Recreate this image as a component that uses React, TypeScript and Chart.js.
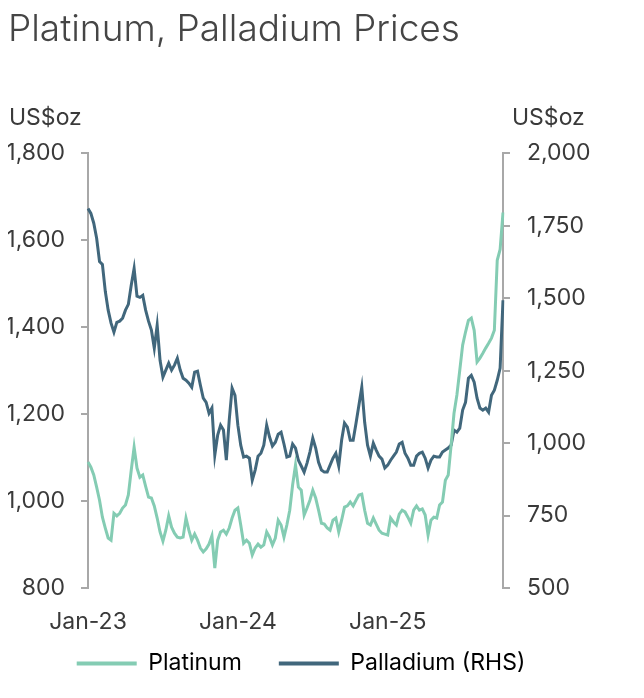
import React, { useEffect, useRef } from "react";
import { Chart, registerables } from "chart.js";

Chart.register(...registerables);

// weekly prices, first week of Jan 2023 to mid Oct 2025
const firstWeek = new Date(2023, 0, 6);
const weekCount = 145;

// US$/oz, left axis
const platinum = [
  1090, 1078, 1060, 1032, 1002, 963, 938, 915, 910, 972,
  966, 972, 984, 991, 1014, 1071, 1124, 1076, 1055, 1060,
  1034, 1009, 1007, 989, 961, 929, 908, 933, 966, 940,
  926, 917, 915, 917, 961, 933, 910, 924, 910, 892,
  883, 890, 901, 920, 846, 910, 929, 933, 924, 938,
  961, 979, 984, 945, 903, 910, 903, 876, 892, 901,
  894, 899, 929, 917, 899, 915, 956, 945, 917, 945,
  979, 1037, 1083, 1032, 1025, 968, 984, 1002, 1025, 1007,
  979, 949, 947, 938, 933, 956, 961, 929, 956, 986,
  989, 998, 989, 1002, 1014, 1016, 979, 949, 945, 961,
  947, 933, 926, 924, 922, 961, 952, 945, 970, 979,
  975, 963, 949, 979, 989, 979, 982, 968, 922, 956,
  963, 961, 991, 998, 1048, 1060, 1129, 1202, 1244, 1301,
  1359, 1389, 1416, 1421, 1393, 1320, 1329, 1340, 1352, 1363,
  1375, 1393, 1554, 1579, 1664,
];

// US$/oz, right axis
const palladium = [
  1810, 1793, 1759, 1707, 1627, 1617, 1524, 1459, 1414, 1383,
  1417, 1421, 1431, 1459, 1479, 1545, 1603, 1507, 1503, 1510,
  1459, 1421, 1390, 1328, 1407, 1286, 1228, 1252, 1276, 1252,
  1269, 1293, 1252, 1224, 1217, 1207, 1193, 1245, 1248, 1200,
  1155, 1141, 1103, 1121, 959, 1028, 1062, 1045, 941, 1079,
  1190, 1165, 1062, 993, 952, 955, 948, 872, 907, 955,
  965, 993, 1062, 1021, 990, 1003, 1031, 1038, 997, 952,
  955, 997, 983, 941, 921, 900, 931, 969, 1017, 983,
  934, 907, 900, 900, 924, 948, 965, 921, 1010, 1069,
  1055, 1010, 1010, 1069, 1131, 1193, 1072, 993, 955, 1000,
  976, 955, 945, 914, 924, 941, 955, 969, 997, 1003,
  965, 948, 924, 924, 955, 965, 969, 948, 914, 941,
  955, 952, 952, 969, 976, 983, 993, 1045, 1038, 1052,
  1114, 1141, 1224, 1234, 1210, 1155, 1121, 1114, 1121, 1107,
  1165, 1183, 1217, 1259, 1493,
];

const title = "Platinum, Palladium Prices";
const unitLabel = "US$oz";
const seriesNames = ["Platinum", "Palladium (RHS)"];
const leftTicks = { min: 800, max: 1800, step: 200 };
const rightTicks = { min: 500, max: 2000, step: 250 };
const months = ["Jan", "Feb", "Mar", "Apr", "May", "Jun", "Jul", "Aug", "Sep", "Oct", "Nov", "Dec"];

const weeks: Date[] = [];
for (let i = 0; i < weekCount; i++) {
  weeks.push(new Date(firstWeek.getTime() + i * 7 * 86400000));
}
const labels = weeks.map((d) => `${months[d.getMonth()]}-${String(d.getFullYear()).slice(2)}`);

const platColor = "#84ccb3";
const pallColor = "#41677c";
const axisColor = "#a8a8a8";
const textColor = "#3a3a3a";
const fontFamily = "Inter, 'Noto Sans', sans-serif";
const fontSize = 23;

const unitsPlugin = {
  id: "units",
  afterDraw(chart: Chart) {
    const { ctx, chartArea } = chart;
    ctx.save();
    ctx.font = `${fontSize}px ${fontFamily}`;
    ctx.fillStyle = textColor;
    ctx.textBaseline = "middle";
    ctx.textAlign = "left";
    ctx.fillText(unitLabel, chartArea.left - 79, chartArea.top - 35);
    ctx.fillText(unitLabel, chartArea.right + 9, chartArea.top - 35);
    ctx.restore();
  },
};

const App: React.FC = () => {
  const canvasRef = useRef<HTMLCanvasElement>(null);

  useEffect(() => {
    if (!canvasRef.current) return;

    const chart = new Chart(canvasRef.current, {
      type: "line",
      data: {
        labels,
        datasets: [
          {
            label: seriesNames[0],
            data: platinum,
            borderColor: platColor,
            backgroundColor: platColor,
            borderWidth: 3,
            pointRadius: 0,
            yAxisID: "y",
          },
          {
            label: seriesNames[1],
            data: palladium,
            borderColor: pallColor,
            backgroundColor: pallColor,
            borderWidth: 3,
            pointRadius: 0,
            yAxisID: "y1",
          },
        ],
      },
      options: {
        animation: false,
        responsive: true,
        maintainAspectRatio: false,
        layout: { padding: { left: 0, right: 42, top: 0, bottom: 5 } },
        plugins: {
          tooltip: { enabled: false },
          title: {
            display: true,
            text: title,
            align: "start",
            color: "#454545",
            font: { family: fontFamily, size: 37, weight: 300 },
            padding: { top: 0, bottom: 101 },
          },
          legend: {
            position: "bottom",
            labels: {
              boxWidth: 60,
              boxHeight: 4,
              padding: 14,
              color: textColor,
              font: { family: fontFamily, size: fontSize },
              // em space after the first name widens the gap between the two entries
              generateLabels: (c: Chart) =>
                c.data.datasets.map((ds: any, i: number) => ({
                  text: i === 0 ? `${ds.label}\u2003` : ds.label,
                  fillStyle: ds.borderColor,
                  strokeStyle: ds.borderColor,
                  lineWidth: 0,
                  hidden: false,
                  datasetIndex: i,
                })),
            },
          },
        },
        scales: {
          x: {
            afterFit: (s: any) => {
              s.height = 50;
            },
            grid: { display: false, drawTicks: false },
            border: { display: false },
            ticks: {
              autoSkip: false,
              maxRotation: 0,
              padding: 20,
              color: textColor,
              font: { family: fontFamily, size: fontSize },
              callback: (_v: any, index: number) => {
                const d = weeks[index];
                return d.getMonth() === 0 && d.getDate() <= 7 ? labels[index] : null;
              },
            },
          },
          y: {
            position: "left",
            min: leftTicks.min,
            max: leftTicks.max,
            afterFit: (s: any) => {
              s.width = 80;
            },
            grid: { drawOnChartArea: false, color: axisColor, tickLength: 7, lineWidth: 2 },
            border: { display: true, color: axisColor, width: 2 },
            ticks: {
              stepSize: leftTicks.step,
              padding: 16,
              color: textColor,
              font: { family: fontFamily, size: fontSize },
              callback: (v: any) => Number(v).toLocaleString("en-US"),
            },
          },
          y1: {
            position: "right",
            min: rightTicks.min,
            max: rightTicks.max,
            afterFit: (s: any) => {
              s.width = 91;
            },
            grid: { drawOnChartArea: false, color: axisColor, tickLength: 7, lineWidth: 2 },
            border: { display: true, color: axisColor, width: 2 },
            ticks: {
              stepSize: rightTicks.step,
              padding: 17,
              color: textColor,
              font: { family: fontFamily, size: fontSize },
              callback: (v: any) => Number(v).toLocaleString("en-US"),
            },
          },
        },
      },
      plugins: [unitsPlugin],
    });

    return () => chart.destroy();
  }, []);

  return (
    <div style={{ width: 628, height: 682 }}>
      <canvas ref={canvasRef} />
    </div>
  );
};

export default App;
